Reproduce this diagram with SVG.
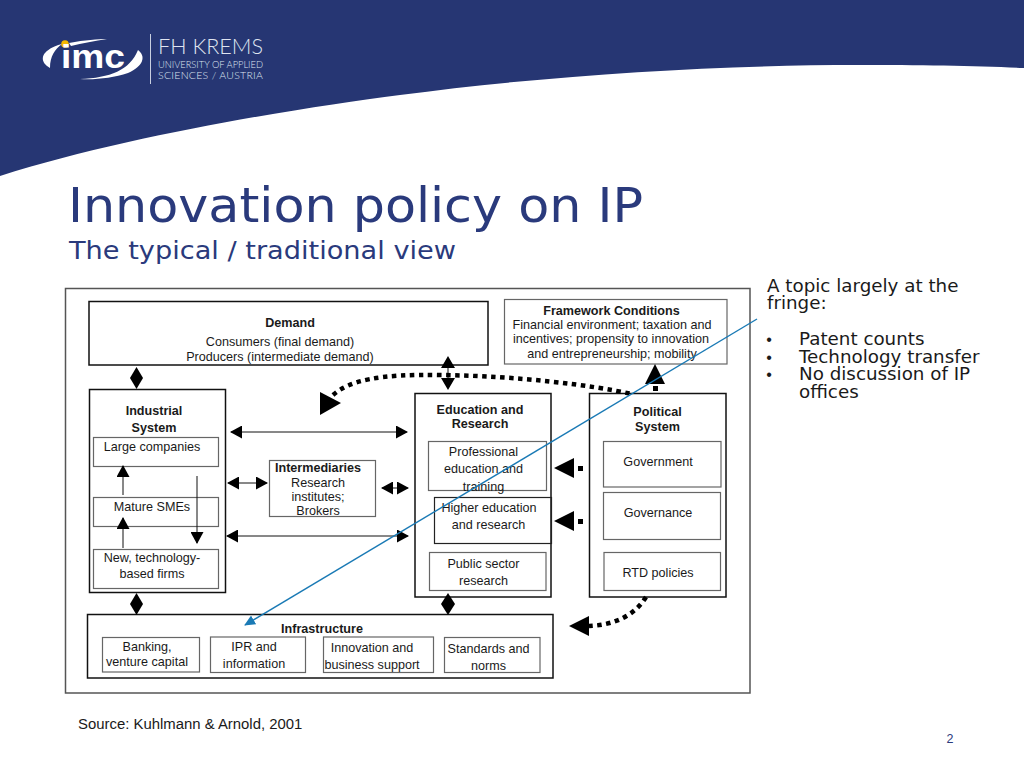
<svg xmlns="http://www.w3.org/2000/svg" width="1024" height="768" viewBox="0 0 1024 768">
<style>
text{font-family:"Liberation Sans",Arial,sans-serif;font-size:12.600px;fill:#1a1a1a;text-anchor:middle}
.b{font-weight:bold}
.d{font-family:"DejaVu Sans",Verdana,sans-serif;text-anchor:start}
.s{font-size:18.300px}
.k{fill:#fff;stroke:#111;stroke-width:1.5}
.g{fill:#fff;stroke:#666;stroke-width:1.2}
.l{fill:none;stroke:#111;stroke-width:1}
.dot{fill:none;stroke:#000;stroke-width:4.500;stroke-dasharray:4.500 4.500}
.logo{font-family:Lato,sans-serif;font-weight:300;fill:#dfe4f0;text-anchor:start}
</style>
<defs>
<marker id="h" markerWidth="12" markerHeight="13" refX="11" refY="6.5" orient="auto-start-reverse" markerUnits="userSpaceOnUse"><path d="M0 0L12 6.5L0 13Z" fill="#000"/></marker>
<marker id="blue" markerWidth="11" markerHeight="10" refX="10" refY="5" orient="auto" markerUnits="userSpaceOnUse"><path d="M0 0L11 5L0 10Z" fill="#1a7ab5"/></marker>
</defs>
<rect width="1024" height="768" fill="#fff"/>
<path id="header" d="M0 0H1024V68C980 66 920 65 858 65C720 65 550 75 400 95C300 108 130 135 0 176Z" fill="#263673"/>
<g id="logo">
<path d="M50 68C40 62 42 55 47 51C52 47 57 45 62 44C55 49 50 56 50 68Z" fill="#fff"/>
<path d="M69 43C85 40 98 39 107 39C95 41 82 43 71 46Z" fill="#fff"/>
<path d="M80 79C110 78 130 70 138 50C146 56 144 66 128 73C113 78 95 80 80 79Z" fill="#fff"/>
<circle cx="65" cy="44" r="3.800" fill="#f5b800"/>
<text x="61" y="68" textLength="64" lengthAdjust="spacingAndGlyphs" style="font-size:33px;font-weight:bold;fill:#fff;text-anchor:start">imc</text>
<path d="M150.500 34V84" stroke="#c8cfe0" stroke-width="1"/>
<text class="logo" x="158" y="54" textLength="105" lengthAdjust="spacingAndGlyphs" style="font-size:21px">FH KREMS</text>
<text class="logo" x="158" y="68" textLength="105" lengthAdjust="spacingAndGlyphs" style="font-size:10.500px">UNIVERSITY OF APPLIED</text>
<text class="logo" x="158" y="79" textLength="105" lengthAdjust="spacing" style="font-size:10.500px">SCIENCES / AUSTRIA</text>
</g>
<text id="title" class="d" x="68" y="222" textLength="575" lengthAdjust="spacingAndGlyphs" style="font-size:47.500px;fill:#2a3a7c">Innovation policy on IP</text>
<text id="subtitle" class="d" x="69" y="259" textLength="387" lengthAdjust="spacingAndGlyphs" style="font-size:25.500px;fill:#2a3a7c">The typical / traditional view</text>
<g id="side">
<text class="d s" x="767" y="292">A topic largely at the</text>
<text class="d s" x="767" y="309">fringe:</text>
<text x="769" y="345" style="font-size:16px">•</text><text class="d s" x="799" y="345">Patent counts</text>
<text x="769" y="363" style="font-size:16px">•</text><text class="d s" x="799" y="363">Technology transfer</text>
<text x="769" y="380" style="font-size:16px">•</text><text class="d s" x="799" y="380">No discussion of IP</text>
<text class="d s" x="799" y="398">offices</text>
</g>
<rect id="frame" x="65.500" y="288.500" width="684.500" height="404.500" fill="#fff" stroke="#555" stroke-width="1.500"/>
<g id="demand"><rect class="k" x="89" y="301.500" width="399" height="63.500"/><text class="b" x="290" y="327">Demand</text><text x="280" y="346">Consumers (final demand)</text><text x="280" y="361">Producers (intermediate demand)</text></g>
<g id="framework"><rect class="g" x="504.500" y="299.500" width="222.500" height="64.500"/><text class="b" x="611.500" y="315">Framework Conditions</text><text x="612" y="329">Financial environment; taxation and</text><text x="611" y="343">incentives; propensity to innovation</text><text x="612" y="358">and entrepreneurship; mobility</text></g>
<g id="industrial"><rect class="k" x="89.500" y="389.500" width="136" height="203"/><text class="b" x="154" y="415">Industrial</text><text class="b" x="154" y="432">System</text></g>
<g id="large"><rect class="g" x="93.500" y="437.500" width="125" height="29"/><text x="152" y="451">Large companies</text></g>
<g id="mature"><rect class="g" x="93.500" y="497.500" width="125" height="29"/><text x="152" y="511">Mature SMEs</text></g>
<g id="newtech"><rect class="g" x="93.500" y="549.500" width="125" height="39"/><text x="152" y="562">New, technology-</text><text x="152" y="578">based firms</text></g>
<g id="intermediaries"><rect class="g" x="269.500" y="460.500" width="106" height="56"/><text class="b" x="318" y="472">Intermediaries</text><text x="318" y="487">Research</text><text x="318" y="501">institutes;</text><text x="318" y="515">Brokers</text></g>
<g id="education"><rect class="k" x="415" y="393.500" width="136" height="203.500"/><text class="b" x="480" y="414">Education and</text><text class="b" x="480" y="428">Research</text></g>
<g id="professional"><rect class="g" x="428.500" y="441.500" width="118" height="49"/><text x="483.500" y="456">Professional</text><text x="483.500" y="473">education and</text><text x="483.500" y="491">training</text></g>
<g id="higher"><rect fill="none" stroke="#222" stroke-width="1.200" x="434.500" y="497.500" width="117" height="46"/><text x="489" y="512">Higher education</text><text x="488.500" y="529">and research</text></g>
<g id="public"><rect class="g" x="429.500" y="552.500" width="116.500" height="38"/><text x="483.500" y="568">Public sector</text><text x="483.500" y="585">research</text></g>
<g id="political"><rect class="k" x="589.500" y="393.500" width="136.500" height="203.500"/><text class="b" x="657.500" y="416">Political</text><text class="b" x="657.500" y="431">System</text></g>
<g id="government"><rect class="g" x="603.500" y="441.500" width="117.500" height="45.500"/><text x="658" y="466">Government</text></g>
<g id="governance"><rect class="g" x="603.500" y="492.500" width="117" height="47"/><text x="658" y="517">Governance</text></g>
<g id="rtd"><rect class="g" x="604" y="552.500" width="116.500" height="38"/><text x="658" y="577">RTD policies</text></g>
<g id="infrastructure"><rect class="k" x="87.500" y="614.500" width="465.500" height="63.500"/><text class="b" x="322" y="633">Infrastructure</text></g>
<g id="banking"><rect class="g" x="102.500" y="637.500" width="97" height="34.500"/><text x="147" y="651">Banking,</text><text x="147" y="666">venture capital</text></g>
<g id="ipr"><rect class="g" x="210.500" y="637" width="95" height="35.500"/><text x="254" y="651">IPR and</text><text x="254" y="668">information</text></g>
<g id="innovation"><rect class="g" x="323.500" y="637" width="110" height="35.500"/><text x="372" y="652">Innovation and</text><text x="372" y="669">business support</text></g>
<g id="standards"><rect class="g" x="444.500" y="637.500" width="95.500" height="35"/><text x="488.500" y="653">Standards and</text><text x="488.500" y="670">norms</text></g>
<g id="connectors">
<path d="M136.500 367L143 378L136.500 389L130 378Z"/><path d="M136.500 593L143 604L136.500 615L130 604Z"/>
<path d="M448 593L455 604L448 615L441 604Z"/>
<path class="l" d="M448 368V380"/><path d="M448 356L455 368H441ZM448 390L455 378H441Z"/>
<path class="l" d="M231 432H407" marker-start="url(#h)" marker-end="url(#h)"/>
<path class="l" d="M227 536H408" marker-start="url(#h)" marker-end="url(#h)"/>
<path class="l" d="M228 483H267" marker-start="url(#h)" marker-end="url(#h)"/>
<path class="l" d="M382 488H408" marker-start="url(#h)" marker-end="url(#h)"/>
<path class="l" d="M123 495V466" marker-end="url(#h)"/>
<path class="l" d="M123 548V518" marker-end="url(#h)"/>
<path class="l" d="M197 476V543" marker-end="url(#h)"/>
<path class="dot" d="M333 395C350 380 380 374 440 375C520 376 590 385 632 394"/>
<path d="M320 392L341 403L320 415Z"/>
<path d="M653 386h5v5h-5z"/>
<path d="M655 364L665 384H645Z"/>
<path d="M554 468L574 458V478ZM554 521L574 511V531Z"/><path d="M578 466h5v5h-5zM578 519h5v5h-5z"/>
<path class="dot" d="M646 597C635 615 615 625 589 626"/>
<path d="M569 626L589 616V636Z"/>
<path d="M757 319L245 625" stroke="#1a7ab5" stroke-width="1.400" fill="none" marker-end="url(#blue)"/>
</g>
<text id="source" x="78" y="729" style="font-size:14.900px;text-anchor:start">Source: Kuhlmann &amp; Arnold, 2001</text>
<text id="page" x="950" y="743" style="font-size:12.500px;fill:#2a3a7c">2</text>
</svg>
